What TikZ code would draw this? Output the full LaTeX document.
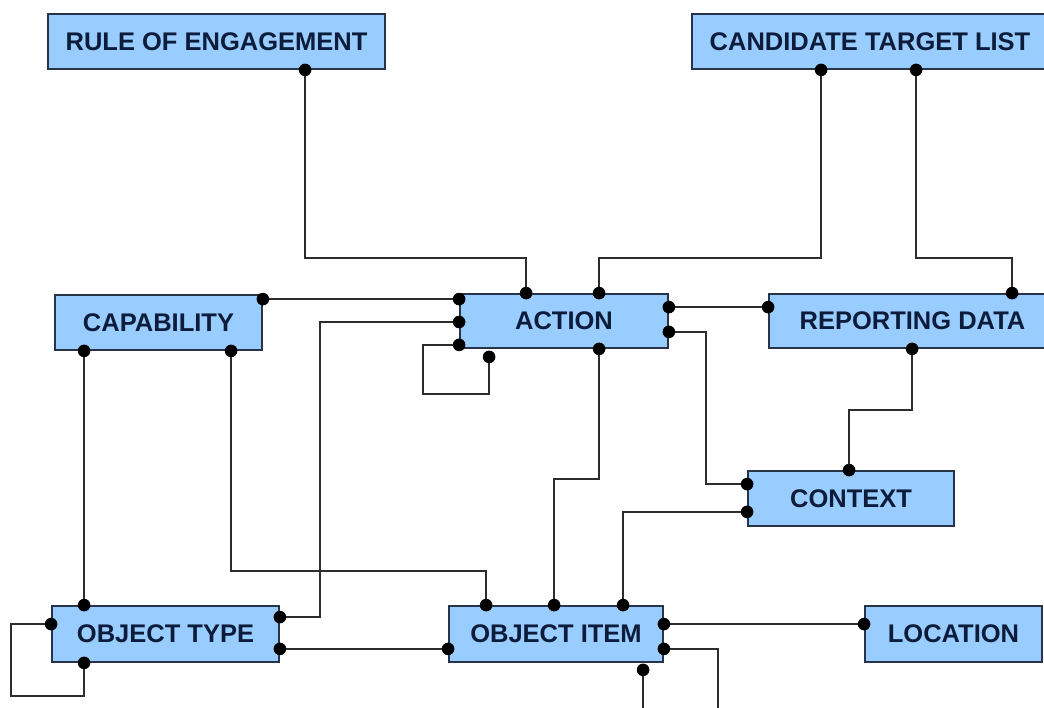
\documentclass[tikz,border=0pt]{standalone}
\usepackage{fontspec}
\setmainfont{Liberation Sans}
\usetikzlibrary{calc}
\pgfdeclarelayer{wires}
\pgfsetlayers{wires,main}
\definecolor{boxfill}{RGB}{153,204,255}
\definecolor{boxedge}{RGB}{40,52,72}
\definecolor{wirecol}{RGB}{45,45,45}
\definecolor{labelcol}{RGB}{12,28,58}
\tikzset{
  entity/.style={draw=boxedge, fill=boxfill, line width=1.8pt, inner sep=0pt,
    text=labelcol, font=\fontsize{25.5}{30}\selectfont\bfseries},
  wire/.style={draw=wirecol, line width=1.7pt},
  port/.style={fill=black},
}
\begin{document}
\begin{tikzpicture}[x=1pt, y=-1pt]
\useasboundingbox (0,0) rectangle (1044,708);
\clip (0,0) rectangle (1044,708);
\begin{pgfonlayer}{wires}
\fill[white] (0,0) rectangle (1044,708);
\end{pgfonlayer}

% entities
\node[entity, minimum width=337pt, minimum height=55pt] (roe) at (216.5,41.5) {RULE OF ENGAGEMENT};
\node[entity, minimum width=356pt, minimum height=55pt] (ctl) at (870,41.5) {CANDIDATE TARGET LIST};
\node[entity, minimum width=207pt, minimum height=55pt] (cap) at (158.5,322.5) {CAPABILITY};
\node[entity, minimum width=208pt, minimum height=54pt] (act) at (564,321) {ACTION};
\node[entity, minimum width=287pt, minimum height=54pt] (rep) at (912.5,321) {REPORTING DATA};
\node[entity, minimum width=206pt, minimum height=55pt] (ctx) at (851,498.5) {CONTEXT};
\node[entity, minimum width=227pt, minimum height=56pt] (otp) at (165.5,634) {OBJECT TYPE};
\node[entity, minimum width=214pt, minimum height=56pt] (oit) at (556,634) {OBJECT ITEM};
\node[entity, minimum width=177pt, minimum height=56pt] (loc) at (953.5,634) {LOCATION};

% connection points
\coordinate (roeB)  at ($(roe.south west)+(258,0)$);
\coordinate (ctlB1) at ($(ctl.south west)+(130,0)$);
\coordinate (ctlB2) at ($(ctl.south west)+(225,0)$);
\coordinate (actT1) at ($(act.north west)+(67,0)$);
\coordinate (actT2) at ($(act.north west)+(140,0)$);
\coordinate (repT)  at ($(rep.north west)+(244,0)$);
\coordinate (capTR) at ($(cap.north east)+(0,5)$);
\coordinate (actL1) at ($(act.north west)+(0,6)$);
\coordinate (actL2) at ($(act.west)+(0,1)$);
\coordinate (actL3) at ($(act.south west)+(0,-4)$);
\coordinate (actB1) at ($(act.south west)+(30,8)$);
\coordinate (actB2) at ($(act.south west)+(140,0)$);
\coordinate (actR1) at ($(act.north east)+(0,14)$);
\coordinate (actR2) at ($(act.south east)+(0,-17)$);
\coordinate (repL)  at ($(rep.north west)+(0,14)$);
\coordinate (repB)  at ($(rep.south west)+(144,0)$);
\coordinate (ctxT)  at ($(ctx.north west)+(102,0)$);
\coordinate (ctxL1) at ($(ctx.north west)+(0,14)$);
\coordinate (ctxL2) at ($(ctx.south west)+(0,-15)$);
\coordinate (capB1) at ($(cap.south west)+(30,0)$);
\coordinate (capB2) at ($(cap.south west)+(177,0)$);
\coordinate (otpT)  at ($(otp.north west)+(33,0)$);
\coordinate (otpL)  at ($(otp.north west)+(0,19)$);
\coordinate (otpB)  at ($(otp.south west)+(33,0)$);
\coordinate (otpR1) at ($(otp.north east)+(0,12)$);
\coordinate (otpR2) at ($(otp.south east)+(0,-14)$);
\coordinate (oitT1) at ($(oit.north west)+(38,0)$);
\coordinate (oitT2) at ($(oit.north west)+(106,0)$);
\coordinate (oitT3) at ($(oit.north west)+(175,0)$);
\coordinate (oitL)  at ($(oit.south west)+(0,-14)$);
\coordinate (oitR1) at ($(oit.north east)+(0,19)$);
\coordinate (oitR2) at ($(oit.south east)+(0,-14)$);
\coordinate (oitB)  at ($(oit.south west)+(195,7)$);
\coordinate (locL)  at ($(loc.north west)+(0,19)$);
\coordinate (freeA) at ($(oitR2)+(54,70)$);
\coordinate (freeB) at ($(oitB)+(0,50)$);

% connectors, kept beneath the entity boxes
\begin{pgfonlayer}{wires}
\draw[wire] (roeB) -- ++(0,188) -| (actT1);
\draw[wire] (ctlB1) -- ++(0,188) -| (actT2);
\draw[wire] (ctlB2) -- ++(0,188) -| (repT);
\draw[wire] (capTR) -- (actL1);
\draw[wire] (actL2) -| ($(otpR1)+(40,0)$) -- (otpR1);
\draw[wire] (actL3) -- ++(-36,0) -- ++(0,49) -| (actB1);
\draw[wire] (actB2) -- ++(0,130) -| (oitT2);
\draw[wire] (actR1) -- (repL);
\draw[wire] (actR2) -- ++(37,0) |- (ctxL1);
\draw[wire] (repB) -- ++(0,61) -| (ctxT);
\draw[wire] (ctxL2) -| (oitT3);
\draw[wire] (capB1) -- (otpT);
\draw[wire] (capB2) -- ++(0,220) -| (oitT1);
\draw[wire] (otpL) -- ++(-40,0) -- ++(0,72) -| (otpB);
\draw[wire] (otpR2) -- (oitL);
\draw[wire] (oitR1) -- (locL);
\draw[wire] (oitR2) -| (freeA);
\draw[wire] (oitB) -- (freeB);
\end{pgfonlayer}

% ports
\foreach \p in {roeB,ctlB1,ctlB2,actT1,actT2,repT,capTR,actL1,actL2,actL3,actB1,actB2,
  actR1,actR2,repL,repB,ctxT,ctxL1,ctxL2,capB1,capB2,otpT,otpL,otpB,otpR1,otpR2,
  oitT1,oitT2,oitT3,oitL,oitR1,oitR2,oitB,locL}
  \fill[port] (\p) circle (6.3pt);
\end{tikzpicture}
\end{document}
